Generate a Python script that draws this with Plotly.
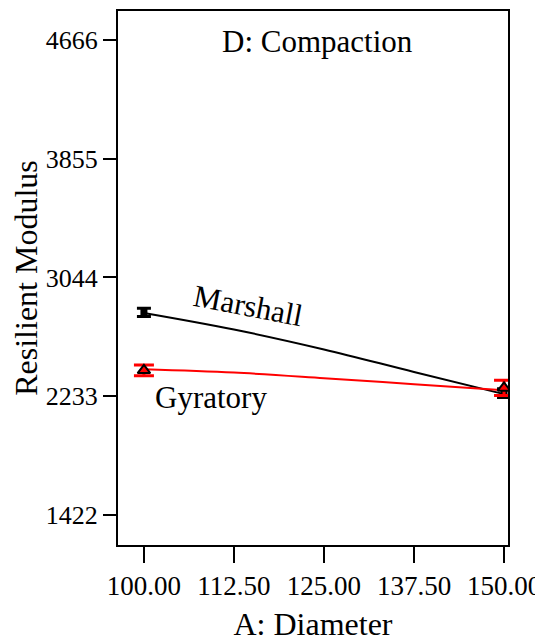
import plotly.graph_objs as go

# Diameter levels and predicted resilient modulus
diameter = [100.0, 112.5, 125.0, 137.5, 150.0]
marshall = [2802, 2689, 2553, 2399, 2248]
gyratory = [2418, 2395, 2357, 2316, 2275]

# design points with their error bars
point_x = [100.0, 150.0]
marshall_pts = [2806, 2255]
marshall_err = [28, 30]
gyratory_pts = [2410, 2290]
gyratory_err = [37, 52]

x_ticks = [100.0, 112.5, 125.0, 137.5, 150.0]
x_tick_text = ['100.00', '112.50', '125.00', '137.50', '150.00']
y_ticks = [1422, 2233, 3044, 3855, 4666]

serif = '"Liberation Serif", "Times New Roman", serif'

fig = go.Figure(
    layout={'width': 535,
            'height': 634,
            'showlegend': False,
            'plot_bgcolor': 'white',
            'paper_bgcolor': 'white',
            'margin': dict(l=110, r=35, t=1, b=97),
            'font': dict(family=serif, color='black', size=28),
            }
)

fig.add_trace(go.Scatter(
    x=diameter, y=marshall, mode='lines', name='Marshall',
    line=dict(color='black', width=2, shape='spline')
))
fig.add_trace(go.Scatter(
    x=diameter, y=gyratory, mode='lines', name='Gyratory',
    line=dict(color='#ff0000', width=2, shape='spline')
))

# error bars + markers
fig.add_trace(go.Scatter(
    x=point_x, y=marshall_pts, mode='markers',
    marker=dict(symbol='square', size=7, color='black'),
    error_y=dict(type='data', array=marshall_err, color='black',
                 thickness=3, width=7)
))
fig.add_trace(go.Scatter(
    x=point_x, y=gyratory_pts, mode='markers',
    marker=dict(symbol='triangle-up', size=11, color='#ff0000',
                line=dict(color='black', width=2)),
    error_y=dict(type='data', array=gyratory_err, color='#ff0000',
                 thickness=3, width=10)
))

fig.add_annotation(x=124.1, y=4655, text='D: Compaction', showarrow=False,
                   xanchor='center', yanchor='middle', font=dict(size=31))
fig.add_annotation(x=114.4, y=2850, text='Marshall', showarrow=False,
                   textangle=11, font=dict(size=31))
fig.add_annotation(x=109.3, y=2222, text='Gyratory', showarrow=False,
                   font=dict(size=31))

fig.update_xaxes(range=[96.4, 150.55], tickvals=x_ticks, ticktext=x_tick_text,
                 ticks='outside', ticklen=16, tickwidth=2, tickcolor='black',
                 showline=True, linewidth=2, linecolor='black', mirror=True,
                 showgrid=False, zeroline=False,
                 tickfont=dict(size=27),
                 title=dict(text='A: Diameter', font=dict(size=32), standoff=16))
fig.update_yaxes(range=[1218, 4863], tickvals=y_ticks,
                 ticks='outside', ticklen=13, tickwidth=2, tickcolor='black',
                 showline=True, linewidth=2, linecolor='black', mirror=True,
                 showgrid=False, zeroline=False,
                 tickfont=dict(size=26),
                 title=dict(text='Resilient Modulus', font=dict(size=32), standoff=6))

fig.write_html("out.html")
